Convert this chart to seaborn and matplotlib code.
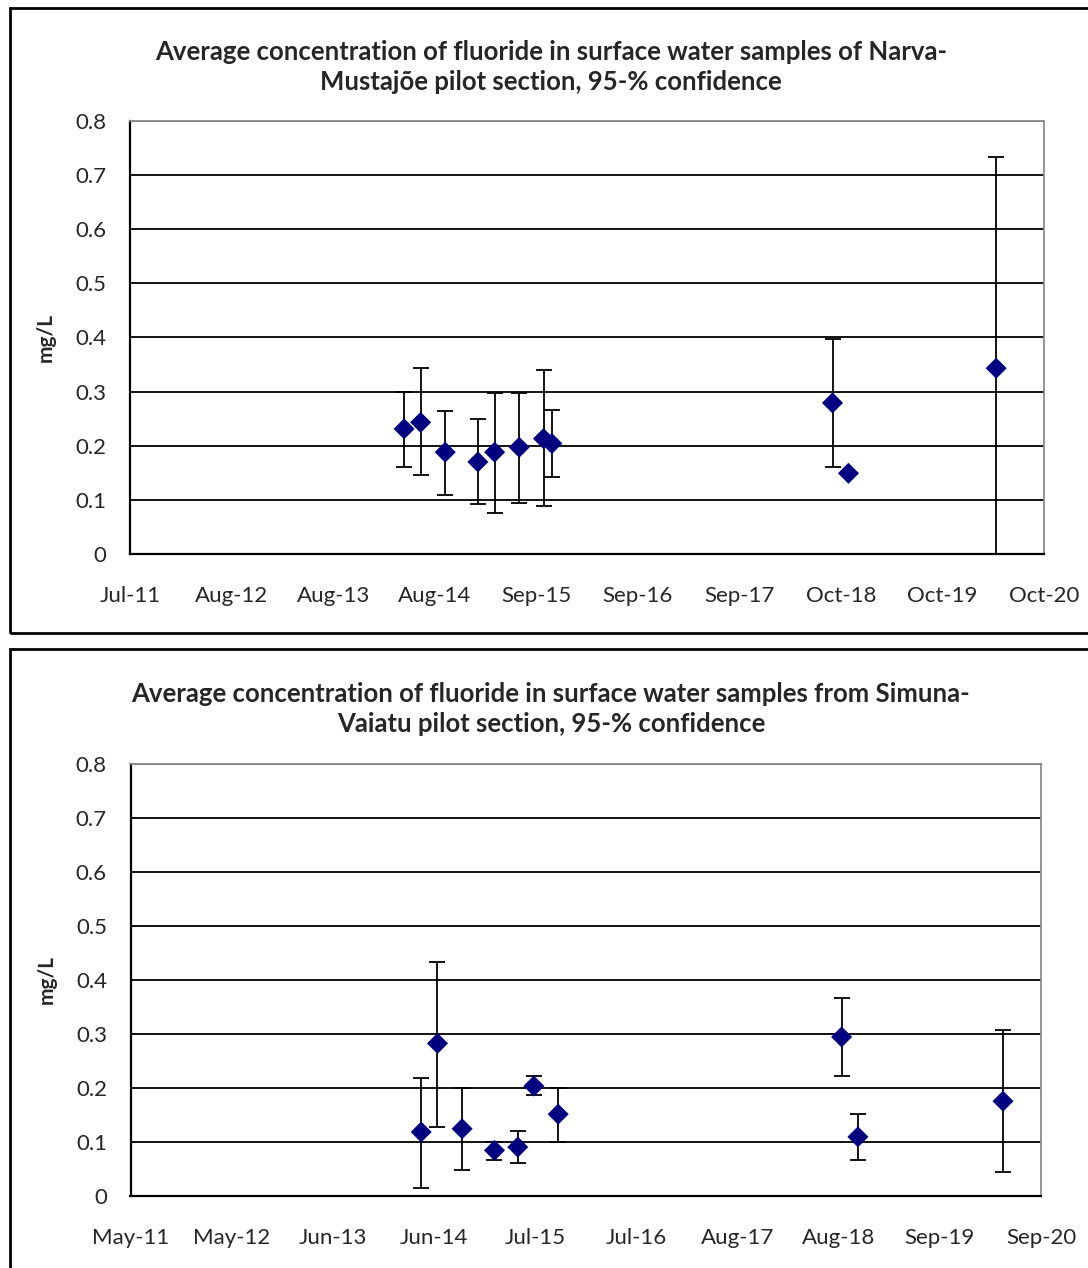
import pandas as pd
import matplotlib
matplotlib.use('Agg')
import matplotlib.pyplot as plt
from matplotlib.patches import Rectangle
import seaborn as sns

# Narva-Mustajõe pilot section
narva_dates = ['2014-05-05', '2014-07-05', '2014-10-04', '2015-02-02', '2015-04-05', '2015-07-05',
               '2015-10-03', '2015-11-03', '2018-09-07', '2018-11-05', '2020-05-05']
narva_mean = [0.231, 0.243, 0.188, 0.170, 0.188, 0.197, 0.213, 0.204, 0.279, 0.149, 0.343]
narva_low = [0.161, 0.146, 0.109, 0.092, 0.076, 0.095, 0.089, 0.143, 0.161, 0.149, -0.05]
narva_high = [0.300, 0.343, 0.264, 0.249, 0.298, 0.298, 0.340, 0.266, 0.397, 0.149, 0.733]
narva_ticks = ['Jul-11', 'Aug-12', 'Aug-13', 'Aug-14', 'Sep-15', 'Sep-16', 'Sep-17', 'Oct-18', 'Oct-19', 'Oct-20']

# Simuna-Vaiatu pilot section
simuna_dates = ['2014-05-05', '2014-07-05', '2014-10-05', '2015-02-03', '2015-05-01', '2015-06-30',
                '2015-09-29', '2018-08-23', '2018-10-23', '2020-04-17']
simuna_mean = [0.118, 0.282, 0.124, 0.084, 0.090, 0.203, 0.151, 0.294, 0.109, 0.175]
simuna_low = [0.014, 0.127, 0.048, 0.066, 0.060, 0.187, 0.100, 0.221, 0.066, 0.044]
simuna_high = [0.218, 0.433, 0.200, 0.100, 0.120, 0.221, 0.200, 0.367, 0.151, 0.306]
simuna_ticks = ['May-11', 'May-12', 'Jun-13', 'Jun-14', 'Jul-15', 'Jul-16', 'Aug-17', 'Aug-18', 'Sep-19', 'Sep-20']

yticks = [0, 0.1, 0.2, 0.3, 0.4, 0.5, 0.6, 0.7, 0.8]

sns.set_style('white')
plt.rcParams['font.family'] = ['Lato', 'DejaVu Sans']

W, H = 1088, 1268
fig = plt.figure(figsize=(W / 100, H / 100), dpi=100)


def panel(rect, dates, mean, low, high, ticklabels, start, step, title, title_y):
    ax = fig.add_axes(rect)
    df = pd.DataFrame({'date': pd.to_datetime(dates), 'mean': mean, 'low': low, 'high': high})
    ax.errorbar(df['date'], df['mean'], yerr=[df['mean'] - df['low'], df['high'] - df['mean']],
                fmt='none', ecolor='black', elinewidth=1.3, capsize=6, capthick=1.3, zorder=3)
    sns.scatterplot(data=df, x='date', y='mean', marker='D', color='#000080', s=115,
                    edgecolor='none', zorder=4, ax=ax)
    ticks = pd.date_range(start, periods=len(ticklabels), freq=f'{step}D')
    ax.set_xlim(ticks[0], ticks[-1])
    ax.set_xticks(ticks)
    ax.set_xticklabels(ticklabels)
    ax.set_ylim(0, 0.8)
    ax.set_yticks(yticks)
    ax.set_yticklabels(['0'] + [f'{v:.1f}' for v in yticks[1:]])
    ax.yaxis.grid(True, color='black', lw=1.3)
    ax.set_axisbelow(True)
    ax.set_xlabel('')
    ax.set_ylabel('mg/L', fontsize=15, fontweight='bold', labelpad=14)
    ax.tick_params(axis='both', labelsize=16, direction='out', length=7, width=1.3, color='black')
    ax.tick_params(axis='x', pad=16)
    ax.tick_params(axis='y', pad=10)
    for s in ['left', 'bottom']:
        ax.spines[s].set_color('black')
        ax.spines[s].set_linewidth(1.6)
    for s in ['top', 'right']:
        ax.spines[s].set_color('#8c8c8c')
        ax.spines[s].set_linewidth(1.3)
    fig.text(551 / W, 1 - title_y / H, title, ha='center', va='center', fontsize=18.5,
             fontweight='bold', linespacing=1.25)
    return ax


panel([130 / W, 1 - 554 / H, 914 / W, 433.3 / H], narva_dates, narva_mean, narva_low, narva_high,
      narva_ticks, '2011-07-25', 376,
      'Average concentration of fluoride in surface water samples of Narva-\nMustajõe pilot section, 95-% confidence',
      67)
panel([130.5 / W, 1 - 1195.7 / H, 910.5 / W, 432 / H], simuna_dates, simuna_mean, simuna_low, simuna_high,
      simuna_ticks, '2011-05-15', 378,
      'Average concentration of fluoride in surface water samples from Simuna-\nVaiatu pilot section, 95-% confidence',
      709)

# chart area borders (cropped on the right / bottom like the original)
fig.patches.append(Rectangle((10 / W, 1 - 633 / H), 1.2, (633 - 7.5) / H, transform=fig.transFigure,
                             fill=False, edgecolor='black', lw=2))
fig.patches.append(Rectangle((10 / W, -0.2), 1.2, 0.2 + (H - 649) / H, transform=fig.transFigure,
                             fill=False, edgecolor='black', lw=2))

fig.savefig('out.png', dpi=100)
